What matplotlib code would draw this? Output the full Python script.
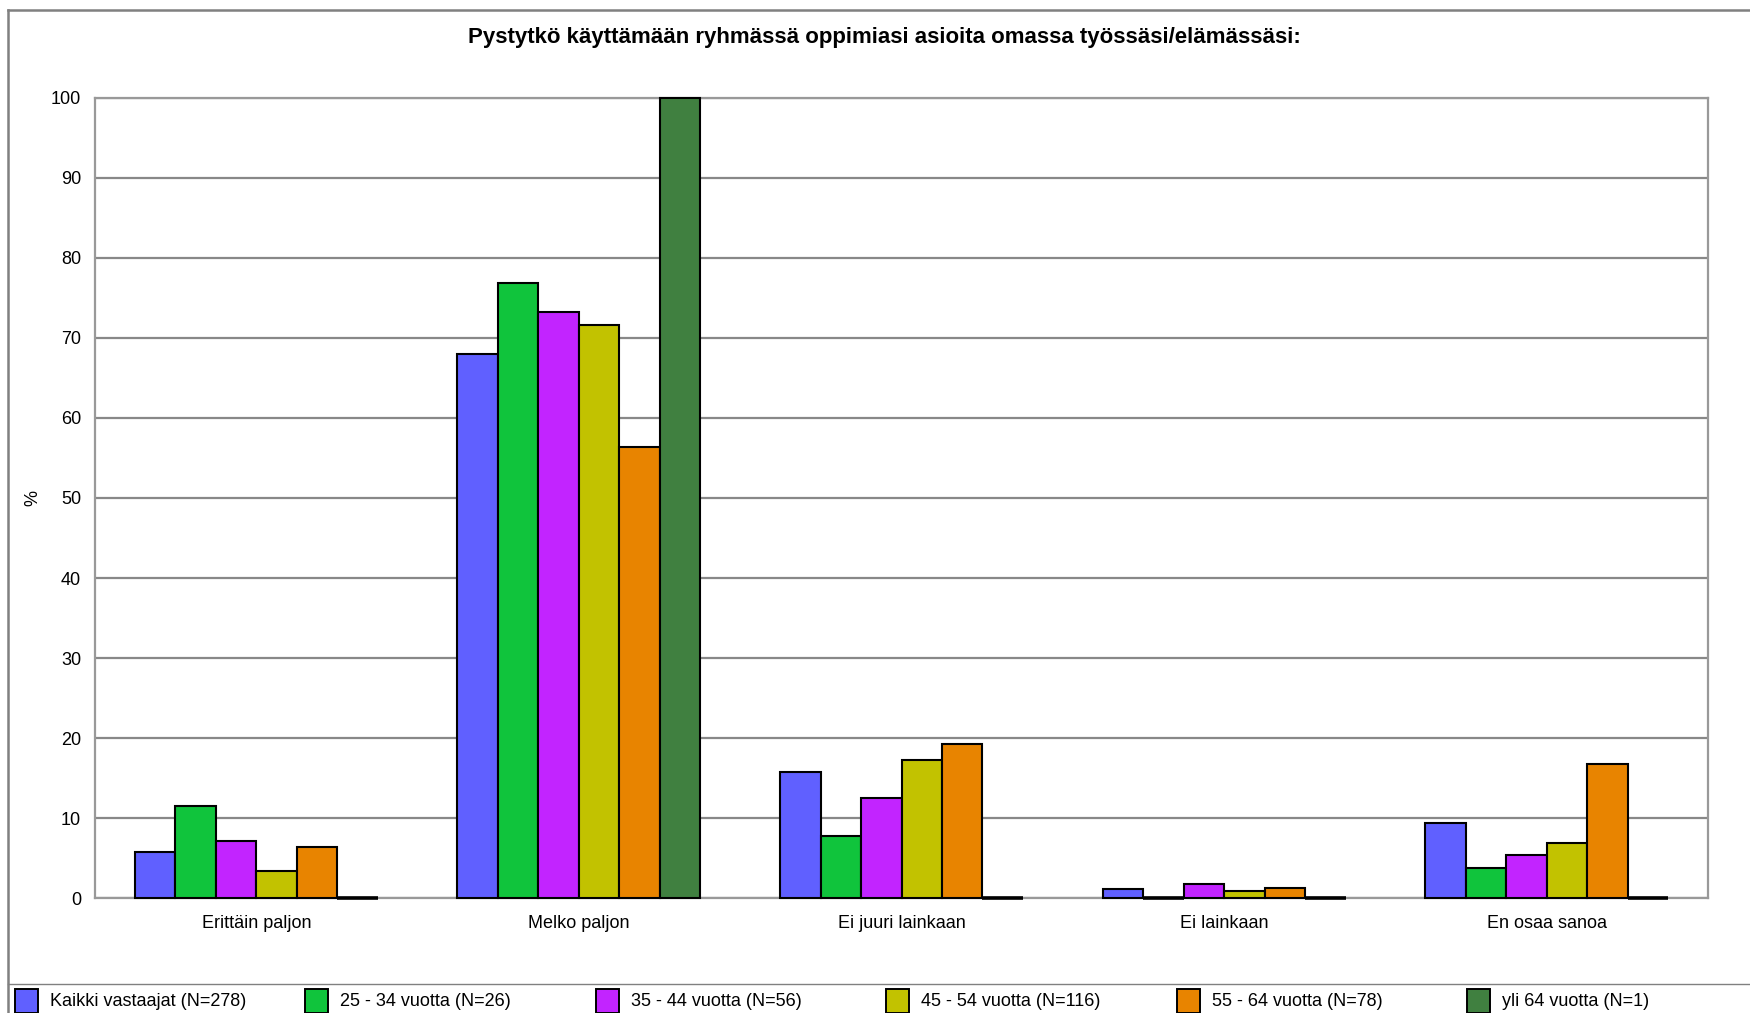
import numpy as np
import matplotlib
matplotlib.use("Agg")
import matplotlib.pyplot as plt
from matplotlib.lines import Line2D
from matplotlib.patches import Rectangle

plt.rcParams['font.family'] = ['Liberation Sans', 'DejaVu Sans']

# data (percent of respondents per answer)
categories = ["Erittäin paljon", "Melko paljon", "Ei juuri lainkaan", "Ei lainkaan", "En osaa sanoa"]
series_names = ["Kaikki vastaajat (N=278)", "25 - 34 vuotta (N=26)", "35 - 44 vuotta (N=56)",
                "45 - 54 vuotta (N=116)", "55 - 64 vuotta (N=78)", "yli 64 vuotta (N=1)"]
kaikki = [5.8, 68.0, 15.8, 1.1, 9.4]
v25_34 = [11.5, 76.9, 7.7, 0.0, 3.8]
v35_44 = [7.1, 73.2, 12.5, 1.8, 5.4]
v45_54 = [3.4, 71.6, 17.2, 0.9, 6.9]
v55_64 = [6.4, 56.4, 19.2, 1.3, 16.7]
yli64 = [0.0, 100.0, 0.0, 0.0, 0.0]
yticks = [0, 10, 20, 30, 40, 50, 60, 70, 80, 90, 100]

series = [kaikki, v25_34, v35_44, v45_54, v55_64, yli64]
colors = ["#6060ff", "#10c43c", "#c224ff", "#c2c200", "#e88400", "#408040"]

W, H = 1750, 1013
fig = plt.figure(figsize=(W / 100, H / 100), dpi=100)
ax = fig.add_axes([95 / W, 1 - 898 / H, (1708 - 95) / W, (898 - 98) / H])

x = np.arange(len(categories))
bw = 0.1255
for i, vals in enumerate(series):
    bars = ax.bar(x + (i - 2.5) * bw, vals, width=bw, color=colors[i], edgecolor="black",
                  linewidth=1.5, zorder=3, clip_on=False)
    for b, v in zip(bars, vals):
        if v == 0:
            b.set_linewidth(2.6)  # empty answers show as a thick black base line

ax.set_xlim(-0.5, len(categories) - 0.5)
ax.set_ylim(0, 100)
ax.set_yticks(yticks)
ax.set_xticks(x)
ax.set_xticklabels(categories, fontsize=13)
ax.tick_params(axis="both", length=0, labelsize=13)
ax.tick_params(axis="y", pad=10)
ax.tick_params(axis="x", pad=12)
ax.yaxis.grid(True, color="#888888", linewidth=1.6)
ax.set_axisbelow(True)
for s in ax.spines.values():
    s.set_color("#999999")
    s.set_linewidth(1.6)
ax.set_ylabel("%", fontsize=13)
ax.yaxis.set_label_coords(-(95 - 41) / (1708 - 95), 0.5)

fig.text(884 / W, 1 - 37 / H, "Pystytkö käyttämään ryhmässä oppimiasi asioita omassa työssäsi/elämässäsi:",
         ha="center", va="center", fontsize=16, fontweight="bold")

# outer frame and legend separator
gray = "#808080"
fig.add_artist(Line2D([8 / W, 8 / W], [0, 1 - 10 / H], color=gray, linewidth=1.8))
fig.add_artist(Line2D([8 / W, 1], [1 - 10 / H, 1 - 10 / H], color=gray, linewidth=1.8))
fig.add_artist(Line2D([8 / W, 1], [1 - 984 / H, 1 - 984 / H], color=gray, linewidth=1.0))

# legend along the bottom
for i, name in enumerate(series_names):
    x0 = 15 + i * 290.4
    fig.add_artist(Rectangle((x0 / W, 1 - 1013 / H), 23 / W, 24 / H, facecolor=colors[i],
                             edgecolor="black", linewidth=1.4, transform=fig.transFigure))
    fig.text((x0 + 35) / W, 1 - 1001 / H, name, ha="left", va="center", fontsize=13)

fig.savefig("out.png", dpi=100)
